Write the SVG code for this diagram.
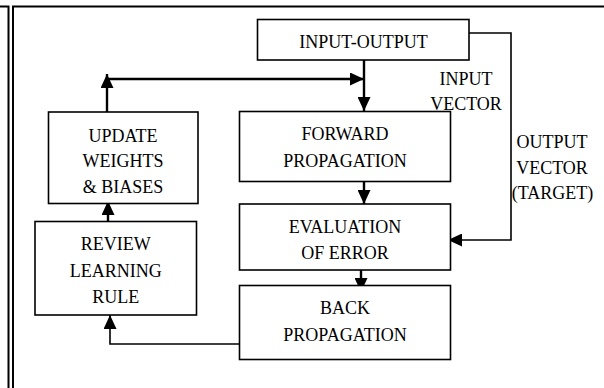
<svg xmlns="http://www.w3.org/2000/svg" width="604" height="388" viewBox="0 0 604 388">
<style>
.box{fill:#fff;stroke:#000;stroke-width:1.6}
.t{font-family:"Liberation Serif","Times New Roman",serif;font-size:18px;fill:#000;text-anchor:middle}
.thick{fill:none;stroke:#000;stroke-width:2.4}
.thin{fill:none;stroke:#000;stroke-width:1.6}
.frame{fill:none;stroke:#000;stroke-width:2}
</style>
<defs>
<marker id="ah" markerUnits="userSpaceOnUse" markerWidth="14" markerHeight="13" refX="14" refY="6.5" orient="auto">
<path d="M0,0 L14,6.5 L0,13 z" fill="#000"/>
</marker>
</defs>
<rect width="604" height="388" fill="#fff"/>
<g id="frame">
<path class="frame" d="M0,6.5 H8.5 V388"/>
<path class="frame" d="M13,388 V6.5 H604"/>
</g>
<g id="connectors">
<path class="thick" d="M364,60 V111" marker-end="url(#ah)"/>
<path class="thick" d="M107,112 V74" marker-end="url(#ah)"/>
<path class="thick" d="M106,79 H364" marker-end="url(#ah)"/>
<path class="thick" d="M364,181.5 V204" marker-end="url(#ah)"/>
<path class="thick" d="M361,266 V292" marker-end="url(#ah)"/>
<path class="thin" d="M469,33 H511 V240 H448" marker-end="url(#ah)"/>
<path class="thick" d="M108,231 V201" marker-end="url(#ah)"/>
<path class="thin" d="M239.5,344 H110 V315" marker-end="url(#ah)"/>
</g>
<g id="input-output">
<rect class="box" x="257.5" y="19.5" width="211.5" height="40.5"/>
<text class="t" x="363.5" y="48">INPUT-OUTPUT</text>
</g>
<g id="update">
<rect class="box" x="48.5" y="112" width="149.5" height="91.5"/>
<text class="t" x="123" y="141.5">UPDATE</text>
<text class="t" x="123" y="166.5">WEIGHTS</text>
<text class="t" x="123" y="192.5">&amp; BIASES</text>
</g>
<g id="forward">
<rect class="box" x="239.5" y="111.5" width="211" height="70"/>
<text class="t" x="345" y="140">FORWARD</text>
<text class="t" x="345" y="166.5">PROPAGATION</text>
</g>
<g id="evaluation">
<rect class="box" x="239.5" y="204" width="211" height="66"/>
<text class="t" x="345" y="233">EVALUATION</text>
<text class="t" x="345" y="259">OF ERROR</text>
</g>
<g id="back">
<rect class="box" x="239.5" y="285.5" width="211" height="74"/>
<text class="t" x="345" y="314">BACK</text>
<text class="t" x="345" y="340.5">PROPAGATION</text>
</g>
<g id="review">
<rect class="box" x="35" y="221.5" width="161.5" height="93.5"/>
<text class="t" x="115.8" y="250">REVIEW</text>
<text class="t" x="115.8" y="276.5">LEARNING</text>
<text class="t" x="115.8" y="303">RULE</text>
</g>
<g id="labels">
<text class="t" x="466" y="85">INPUT</text>
<text class="t" x="466" y="110">VECTOR</text>
<text class="t" x="552" y="147.5">OUTPUT</text>
<text class="t" x="552" y="174">VECTOR</text>
<text class="t" x="552.5" y="199">(TARGET)</text>
</g>
</svg>
